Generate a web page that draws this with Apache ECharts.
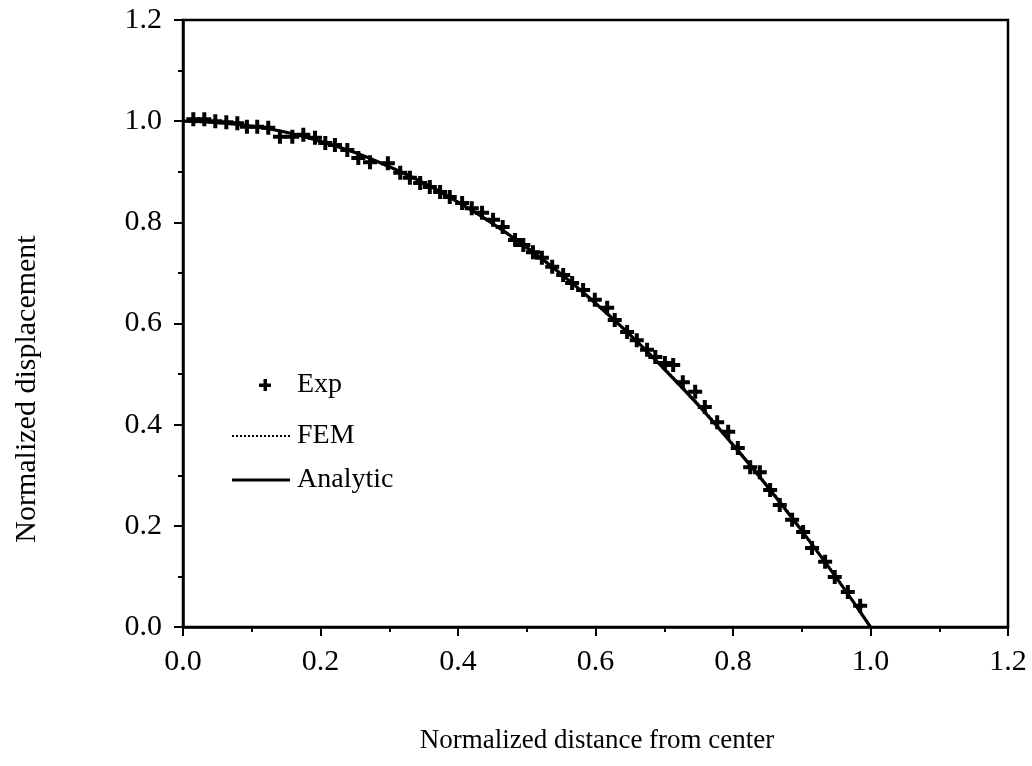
<!DOCTYPE html>
<html>
<head>
<meta charset="utf-8">
<script src="https://cdn.jsdelivr.net/npm/echarts@6/dist/echarts.min.js"></script>
<style>
  html, body { margin: 0; padding: 0; background: #fff; }
  #chart { width: 1032px; height: 766px; }
</style>
</head>
<body>
<div id="chart"></div>
<script>
// Measured plate profile: normalized radial position vs normalized displacement
const expX = [0.015, 0.031, 0.047, 0.063, 0.079, 0.093, 0.108, 0.124, 0.141, 0.159,
  0.175, 0.192, 0.207, 0.221, 0.239, 0.255, 0.272, 0.298, 0.316, 0.330,
  0.345, 0.359, 0.374, 0.388, 0.406, 0.420, 0.435, 0.451, 0.465, 0.483,
  0.495, 0.509, 0.522, 0.537, 0.553, 0.566, 0.582, 0.599, 0.617, 0.628,
  0.646, 0.660, 0.675, 0.687, 0.701, 0.713, 0.727, 0.745, 0.759, 0.777,
  0.793, 0.807, 0.825, 0.839, 0.854, 0.868, 0.886, 0.902, 0.915, 0.934,
  0.948, 0.967, 0.985];
const expY = [1.004, 1.004, 1.000, 0.998, 0.996, 0.989, 0.989, 0.987, 0.969, 0.969,
  0.973, 0.967, 0.957, 0.953, 0.943, 0.927, 0.919, 0.917, 0.898, 0.888,
  0.878, 0.870, 0.860, 0.850, 0.838, 0.828, 0.819, 0.805, 0.791, 0.765,
  0.755, 0.741, 0.730, 0.712, 0.696, 0.680, 0.666, 0.647, 0.631, 0.607,
  0.583, 0.567, 0.548, 0.534, 0.522, 0.518, 0.484, 0.465, 0.435, 0.405,
  0.386, 0.354, 0.316, 0.306, 0.271, 0.241, 0.212, 0.188, 0.156, 0.129,
  0.099, 0.069, 0.042];

// Finite element result
const femX = [0.0, 0.05, 0.10, 0.15, 0.20, 0.25, 0.30, 0.35, 0.40, 0.45, 0.50,
  0.55, 0.60, 0.65, 0.70, 0.75, 0.80, 0.85, 0.90, 0.95, 1.0];
const femY = [1.000, 0.997, 0.990, 0.978, 0.960, 0.938, 0.910, 0.878, 0.840, 0.798, 0.750,
  0.698, 0.640, 0.578, 0.512, 0.440, 0.362, 0.280, 0.192, 0.099, 0.0];

// Analytic solution
const anaX = [0.0, 0.05, 0.10, 0.15, 0.20, 0.25, 0.30, 0.35, 0.40, 0.45, 0.50,
  0.55, 0.60, 0.65, 0.70, 0.75, 0.80, 0.85, 0.90, 0.95, 1.0];
const anaY = [1.000, 0.997, 0.990, 0.978, 0.960, 0.938, 0.910, 0.878, 0.840, 0.798, 0.750,
  0.698, 0.640, 0.578, 0.510, 0.438, 0.360, 0.278, 0.190, 0.098, 0.0];

const tickValues = [0.0, 0.2, 0.4, 0.6, 0.8, 1.0, 1.2];
const legendNames = ['Exp', 'FEM', 'Analytic'];

const pairs = (xs, ys) => xs.map((x, i) => [x, ys[i]]);

const serif = '"Liberation Serif", "DejaVu Serif", serif';
const plusPath = 'path://M5,0H9V5H14V9H9V14H5V9H0V5H5Z';

const axisCommon = {
  type: 'value',
  min: 0,
  max: 1.2,
  interval: 0.2,
  axisLine: { show: true, onZero: false, lineStyle: { color: '#000', width: 2.5 } },
  axisTick: { show: true, inside: false, length: 9, lineStyle: { color: '#000', width: 2 } },
  minorTick: { show: true, splitNumber: 2, length: 5, lineStyle: { color: '#000', width: 2 } },
  splitLine: { show: false },
  minorSplitLine: { show: false },
  axisLabel: {
    color: '#000',
    fontFamily: serif,
    fontSize: 30,
    formatter: v => tickValues.find(t => Math.abs(t - v) < 1e-9).toFixed(1)
  }
};

// Legend block drawn as graphics: symbol/line sample + label
const legX = 232, legW = 58, textX = 297;
const legRows = [385, 436, 480];
const legendGraphics = [
  { type: 'rect', shape: { x: 259, y: legRows[0] - 1.5, width: 12, height: 3.5 }, style: { fill: '#000' } },
  { type: 'rect', shape: { x: 263.5, y: legRows[0] - 6, width: 3.5, height: 12 }, style: { fill: '#000' } },
  {
    type: 'line',
    shape: { x1: legX, y1: legRows[1], x2: legX + legW, y2: legRows[1] },
    style: { stroke: '#000', lineWidth: 2, lineDash: [2, 2] }
  },
  {
    type: 'line',
    shape: { x1: legX, y1: legRows[2], x2: legX + legW, y2: legRows[2] },
    style: { stroke: '#000', lineWidth: 3 }
  }
].concat(legendNames.map((name, i) => ({
  type: 'text',
  x: textX, y: legRows[i],
  style: { text: name, fill: '#000', font: '28px ' + serif, textVerticalAlign: 'middle', verticalAlign: 'middle' }
})));

const chart = echarts.init(document.getElementById('chart'), null, { renderer: 'canvas' });

chart.setOption({
  backgroundColor: '#fff',
  animation: false,
  grid: {
    left: 183, right: 24, top: 20, bottom: 139,
    show: true, borderColor: '#000', borderWidth: 2.5, backgroundColor: 'transparent'
  },
  xAxis: Object.assign({}, axisCommon, {
    axisLabel: Object.assign({}, axisCommon.axisLabel, { margin: 20 })
  }),
  yAxis: Object.assign({}, axisCommon, {
    axisLabel: Object.assign({}, axisCommon.axisLabel, { margin: 21 })
  }),
  graphic: [
    {
      type: 'text',
      x: 597, y: 741,
      style: {
        text: 'Normalized distance from center', fill: '#000', font: '27px ' + serif,
        align: 'center', verticalAlign: 'middle', textAlign: 'center', textVerticalAlign: 'middle'
      }
    },
    {
      type: 'text',
      x: 27, y: 389,
      rotation: Math.PI / 2,
      style: {
        text: 'Normalized displacement', fill: '#000', font: '30px ' + serif,
        align: 'center', verticalAlign: 'middle', textAlign: 'center', textVerticalAlign: 'middle'
      }
    }
  ].concat(legendGraphics),
  series: [
    {
      name: 'Analytic',
      type: 'line',
      data: pairs(anaX, anaY),
      smooth: true,
      symbol: 'none',
      lineStyle: { color: '#000', width: 3.2 },
      z: 2
    },
    {
      name: 'FEM',
      type: 'line',
      data: pairs(femX, femY),
      smooth: true,
      symbol: 'none',
      lineStyle: { color: '#000', width: 2, type: [2, 2] },
      z: 3
    },
    {
      name: 'Exp',
      type: 'scatter',
      data: pairs(expX, expY),
      symbol: plusPath,
      symbolSize: 14,
      itemStyle: { color: '#000', opacity: 1 },
      z: 4
    }
  ]
});
</script>
</body>
</html>
